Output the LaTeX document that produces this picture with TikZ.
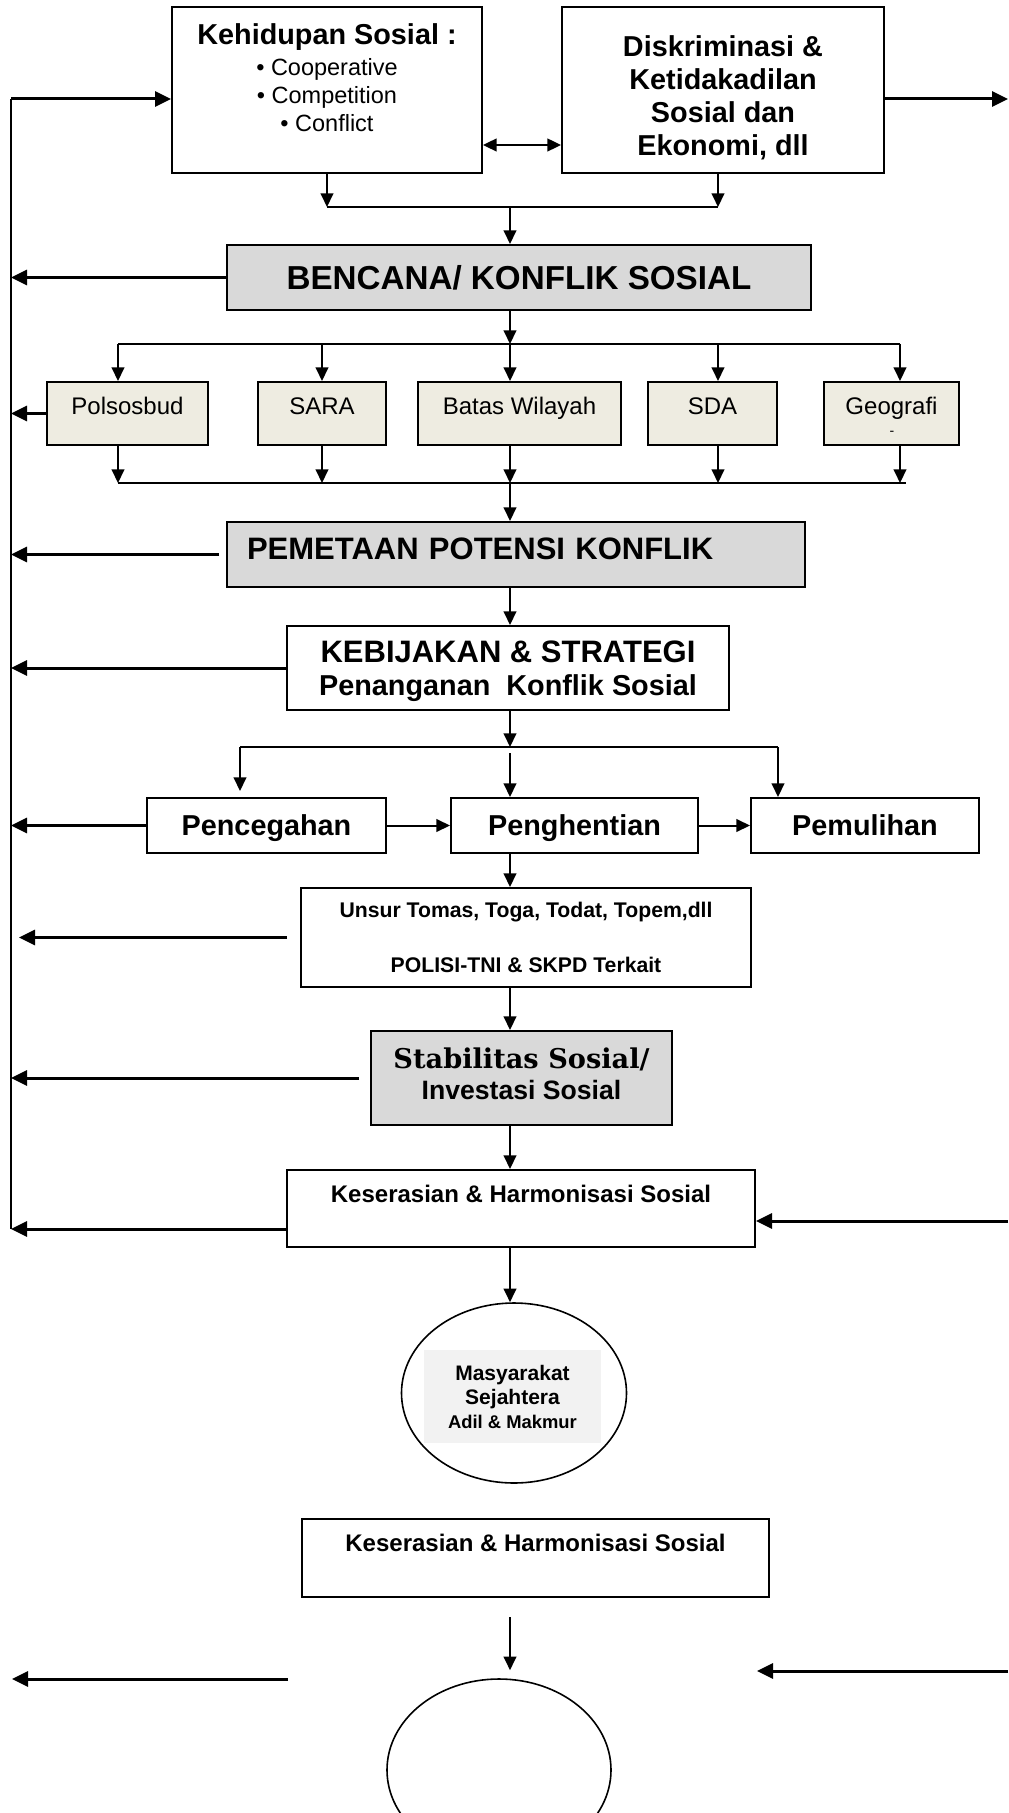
\documentclass[tikz,border=0pt]{standalone}
\usepackage{fontspec}
\setmainfont{Liberation Sans}
\newfontfamily\slabfont{DejaVu Serif}
\usetikzlibrary{arrows.meta,shapes.geometric,calc}
\definecolor{boxgray}{HTML}{D9D9D9}
\definecolor{boxtan}{HTML}{EEECE1}
\definecolor{softgray}{HTML}{F2F2F2}

\begin{document}
\begin{tikzpicture}[
  x=0.5pt, y=-0.5pt,
  box/.style={draw, line width=1pt, inner sep=2pt},
  shaded/.style={box, fill=boxgray},
  causebox/.style={box, fill=boxtan, minimum height=31.5pt, text height=9pt,
                   text depth=7.5pt, font=\fontsize{12}{14}\selectfont},
  stepbox/.style={box, minimum height=27.5pt, text height=10.3pt, text depth=0pt,
                  font=\fontsize{14.4}{16}\selectfont\bfseries},
  conn/.style={-{Triangle[length=6.8pt,width=6.3pt]}, line width=1pt},
  feed/.style={-{Triangle[length=8pt,width=7.5pt]}, line width=1.5pt},
  twoway/.style={{Triangle[length=6.8pt,width=6.3pt]}-{Triangle[length=6.8pt,width=6.3pt]},
                 line width=1.2pt},
  plain/.style={line width=1pt},
]
\clip (0,0) rectangle (1008,1813);

% ── Sources (top row) ───────────────────────────────────────────────────
\node[box, align=center, minimum width=155pt, minimum height=83pt,
      font=\fontsize{11.75}{14}\selectfont] (kehid) at (327,90)
  {{\fontsize{14.4}{16}\selectfont\bfseries Kehidupan Sosial :}\\[1.5pt]
   • Cooperative\\ • Competition\\ • Conflict\\[-2pt]\mbox{}};
\node[box, align=center, minimum width=161pt, minimum height=83pt,
      font=\fontsize{14.4}{16.5}\selectfont\bfseries] (diskrim) at (723,90)
  {\mbox{}\\[2pt]Diskriminasi \&\\Ketidakadilan\\Sosial dan\\Ekonomi, dll};

% ── Bencana / konflik and its causes ────────────────────────────────────
\node[shaded, minimum width=292pt, minimum height=32.5pt, text height=11.9pt,
      text depth=0pt, font=\fontsize{16.6}{18}\selectfont\bfseries] (bencana)
      at (519,277.5) {BENCANA/ KONFLIK SOSIAL};
\node[causebox, minimum width=80.5pt]  (pols)  at (127.5,413.5) {Polsosbud};
\node[causebox, minimum width=64pt]    (sara)  at (322,413.5)   {SARA};
\node[causebox, minimum width=101.5pt] (batas) at (519.5,413.5) {Batas Wilayah};
\node[causebox, minimum width=64.5pt]  (sda)   at (712.5,413.5) {SDA};
\node[causebox, minimum width=67.5pt]  (geo)   at (891.5,413.5) {Geografi};
\node[font=\fontsize{7}{8}\selectfont, inner sep=0pt] (geodash) at (892,433) {-};

% ── Pemetaan, kebijakan, tahapan ────────────────────────────────────────
\node[shaded, minimum width=289pt, minimum height=32.5pt, text width=269pt,
      inner xsep=10pt, align=left, text height=11.1pt, text depth=6pt,
      font=\fontsize{15.5}{17}\selectfont\bfseries] (pemetaan) at (516,554.5)
  {PEMETAAN POTENSI KONFLIK};
\node[box, align=center, minimum width=221pt, minimum height=42pt,
      font=\fontsize{14.4}{16.5}\selectfont\bfseries] (kebij) at (508,668)
  {\mbox{}\\[-2pt]{\fontsize{15.5}{15.5}\selectfont KEBIJAKAN \& STRATEGI}\\Penanganan~~Konflik Sosial};
\node[stepbox, minimum width=119.5pt] (pencegahan)  at (266.5,825.5) {Pencegahan};
\node[stepbox, minimum width=123.5pt] (penghentian) at (574.5,825.5) {Penghentian};
\node[stepbox, minimum width=114pt]   (pemulihan)   at (865,825.5)   {Pemulihan};

% ── Pelaku, stabilitas, keserasian ──────────────────────────────────────
\node[box, align=center, minimum width=225pt, minimum height=49.5pt,
      font=\fontsize{10.6}{12}\selectfont\bfseries] (unsur) at (526,937.5)
  {Unsur Tomas, Toga, Todat, Topem,dll\\[15.5pt]POLISI-TNI \& SKPD Terkait};
\node[shaded, align=center, minimum width=150.5pt, minimum height=47pt,
      font=\fontsize{13.3}{15.5}\selectfont\bfseries] (stab) at (521.5,1078)
  {{\slabfont\fontsize{13.6}{15.5}\selectfont Stabilitas Sosial/}\\Investasi Sosial\\[-11pt]\mbox{}};
\node[box, align=center, minimum width=234pt, minimum height=38.5pt,
      font=\fontsize{12}{13.5}\selectfont\bfseries] (ker1) at (521,1208.5)
  {Keserasian \& Harmonisasi Sosial\\[1.5pt]\mbox{}};

% ── Tujuan ──────────────────────────────────────────────────────────────
\node[draw, ellipse, line width=0.8pt, minimum width=112.5pt,
      minimum height=90pt] (masy) at (514,1393) {};
\node[fill=softgray, align=center, minimum width=88.5pt, minimum height=46.5pt,
      font=\fontsize{10.5}{12}\selectfont\bfseries] (masytxt) at (512.5,1396.5)
  {Masyarakat\\Sejahtera\\{\fontsize{9.2}{11}\selectfont Adil \& Makmur}};
\node[box, align=center, minimum width=233.5pt, minimum height=39pt,
      font=\fontsize{12}{13.5}\selectfont\bfseries] (ker2) at (535.5,1558)
  {Keserasian \& Harmonisasi Sosial\\[1.5pt]\mbox{}};
\node[draw, ellipse, line width=0.8pt, minimum width=112pt,
      minimum height=91pt] (oval2) at (499,1770) {};

% ── Top join ────────────────────────────────────────────────────────────
\coordinate (joinTop) at (510,207);
\draw[twoway] ($(kehid.east)+(0,55)$) -- ($(diskrim.west)+(0,55)$);
\draw[conn] (kehid.south) -- (kehid.south |- joinTop);
\draw[conn] ([xshift=-2.5pt]diskrim.south) -- ([xshift=-2.5pt]diskrim.south |- joinTop);
\draw[plain] (kehid.south |- joinTop) -- ([xshift=-2.5pt]diskrim.south |- joinTop);
\draw[conn] (joinTop) -- (bencana.north -| joinTop);

% ── Fan out / fan in ────────────────────────────────────────────────────
\coordinate (fanTop) at (510,344);
\coordinate (fanBot) at (510,483);
\draw[conn] (bencana.south -| fanTop) -- (fanTop);
\draw[plain] ([xshift=-4.75pt]pols.north |- fanTop) -- ([xshift=4.25pt]geo.north |- fanTop);
\draw[conn] ([xshift=-4.75pt]pols.north |- fanTop) -- ([xshift=-4.75pt]pols.north);
\draw[conn] (sara.north |- fanTop) -- (sara.north);
\draw[conn] (fanTop) -- (batas.north -| fanTop);
\draw[conn] ([xshift=2.75pt]sda.north |- fanTop) -- ([xshift=2.75pt]sda.north);
\draw[conn] ([xshift=4.25pt]geo.north |- fanTop) -- ([xshift=4.25pt]geo.north);
\draw[conn] ([xshift=-4.75pt]pols.south) -- ([xshift=-4.75pt]pols.south |- fanBot);
\draw[conn] (sara.south) -- (sara.south |- fanBot);
\draw[conn] (batas.south -| fanBot) -- (fanBot);
\draw[conn] ([xshift=2.75pt]sda.south) -- ([xshift=2.75pt]sda.south |- fanBot);
\draw[conn] ([xshift=4.25pt]geo.south) -- ([xshift=4.25pt]geo.south |- fanBot);
\draw[plain] ([xshift=-4.75pt]pols.south |- fanBot) -- ([xshift=7.25pt]geo.south |- fanBot);
\draw[conn] (fanBot) -- (pemetaan.north -| fanBot);
\draw[conn] (pemetaan.south -| fanBot) -- (kebij.north -| fanBot);

% ── Fork to the three stages ────────────────────────────────────────────
\coordinate (fork)  at (510,747);
\coordinate (forkL) at (240,747);
\coordinate (forkR) at (778,747);
\draw[conn] (kebij.south -| fork) -- (fork);
\draw[plain] (forkL) -- (forkR);
\draw[conn, shorten >=3pt] (forkL) -- (forkL |- pencegahan.north);
\draw[conn, shorten <=3pt] (fork) -- (penghentian.north -| fork);
\draw[conn] (forkR) -- (forkR |- pemulihan.north);
\draw[conn] (pencegahan.east) -- (penghentian.west);
\draw[conn] (penghentian.east) -- (pemulihan.west);

% ── Main spine ──────────────────────────────────────────────────────────
\draw[conn] (penghentian.south -| fork) -- (unsur.north -| fork);
\draw[conn] (unsur.south -| fork) -- (stab.north -| fork);
\draw[conn] (stab.south -| fork) -- (ker1.north -| fork);
\draw[conn] (ker1.south -| fork) -- (masy.north -| fork);
\draw[conn, shorten <=9.5pt, shorten >=4pt] (ker2.south -| fork) -- (oval2.north -| fork);

% ── Feedback bus (left) and inputs (right) ──────────────────────────────
\coordinate (busTop) at (11,99);
\coordinate (busBot) at (11,1229);
\coordinate (outR)   at (1008,99);
\coordinate (feedR)  at (1008,1221);
\draw[line width=0.8pt] (busTop) -- (busBot);
\draw[feed] (busTop) -- (busTop -| kehid.west);
\draw[feed] (outR -| diskrim.east) -- (outR);
\draw[feed] (bencana.west) -- (bencana.west -| busTop);
\draw[feed] (pols.west) -- (pols.west -| busTop);
\draw[feed, shorten <=3.5pt] (pemetaan.west) -- (pemetaan.west -| busTop);
\draw[feed] (kebij.west) -- (kebij.west -| busTop);
\draw[feed] (pencegahan.west) -- (pencegahan.west -| busTop);
\draw[feed, shorten <=6.5pt, shorten >=4pt] (unsur.west) -- (unsur.west -| busTop);
\draw[feed, shorten <=5.5pt] (stab.west) -- (stab.west -| busTop);
\draw[feed] (busBot -| ker1.west) -- (busBot);
\draw[feed] (feedR) -- (feedR -| ker1.east);

% ── Loose arrows at the bottom ──────────────────────────────────────────
\coordinate (lowL)    at (288,1679);
\coordinate (lowLtip) at (12,1679);
\coordinate (lowR)    at (1008,1671);
\coordinate (lowRtip) at (757,1671);
\draw[feed] (lowL) -- (lowLtip);
\draw[feed] (lowR) -- (lowRtip);

\end{tikzpicture}
\end{document}
